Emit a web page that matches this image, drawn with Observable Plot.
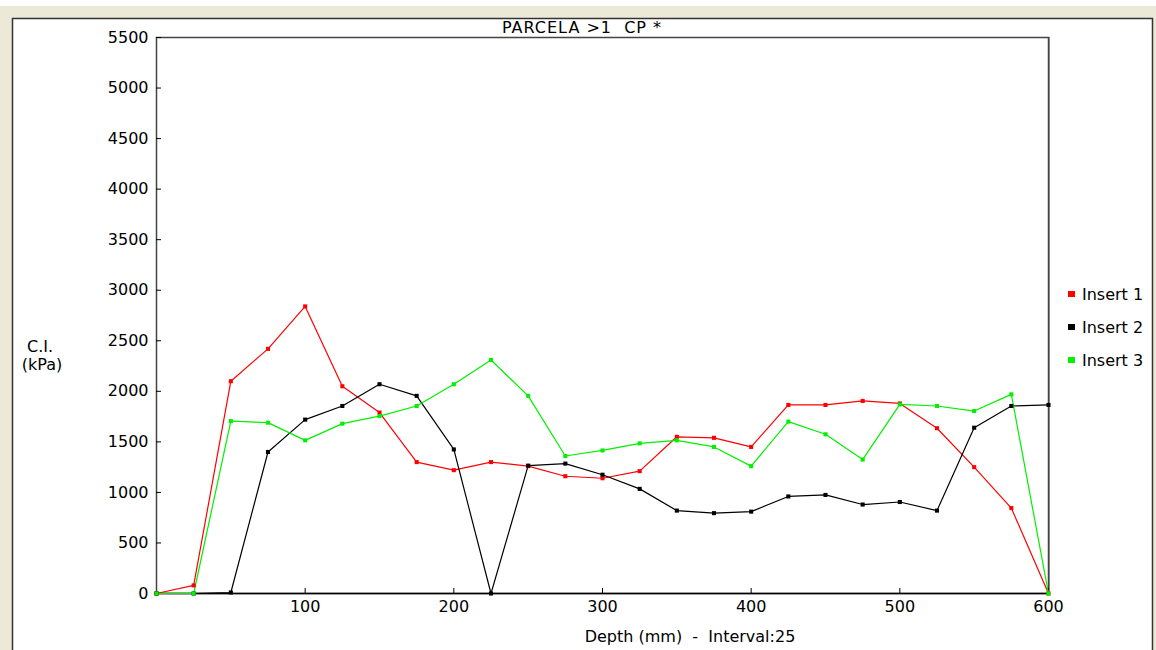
<!DOCTYPE html>
<html><head><meta charset="utf-8">
<script src="https://cdn.jsdelivr.net/npm/d3@7"></script>
<script src="https://cdn.jsdelivr.net/npm/@observablehq/plot@0.6"></script>
<style>body{margin:0;background:#fff;} svg{display:block;}</style>
</head><body><div id="chart"></div>
<script>
const depth = [0,25,50,75,100,125,150,175,200,225,250,275,300,325,350,375,400,425,450,475,500,525,550,575,600];
const insert1 = [0,80,2100,2420,2840,2050,1790,1300,1220,1300,1260,1160,1140,1210,1550,1540,1450,1865,1865,1905,1880,1635,1250,845,0];
const insert2 = [0,0,10,1400,1720,1855,2070,1955,1425,0,1265,1285,1175,1035,820,795,810,960,975,880,905,820,1640,1855,1865];
const insert3 = [0,0,1705,1690,1515,1680,1755,1855,2070,2310,1955,1360,1415,1485,1515,1450,1260,1700,1575,1325,1870,1855,1805,1970,0];
const seriesNames = ["Insert 1","Insert 2","Insert 3"];
const seriesColors = ["#ff0000","#000000","#00f000"];
const yTicks = [0,500,1000,1500,2000,2500,3000,3500,4000,4500,5000,5500];
const xTicks = [100,200,300,400,500,600];
const title = "PARCELA >1  CP *";
const xLabel = "Depth (mm)  -  Interval:25";
const yLabel = ["C.I.", "(kPa)"];

const seriesValues = [insert1, insert2, insert3];
const data = [];
seriesNames.forEach((s, i) => depth.forEach((d, j) => data.push({series: s, depth: d, ci: seriesValues[i][j]})));

const font = "DejaVu Sans, Liberation Sans, Arial, sans-serif";
const chart = Plot.plot({
  width: 1156, height: 650,
  marginLeft: 156, marginRight: 108, marginTop: 37, marginBottom: 57,
  style: {fontFamily: font, fontSize: "16px", color: "#000", background: "transparent", overflow: "visible"},
  x: {domain: [0, 600]},
  y: {domain: [0, 5500]},
  color: {domain: seriesNames, range: seriesColors},
  marks: [
    Plot.frame({stroke: "#444", strokeWidth: 1.5}),
    Plot.axisY({ticks: yTicks, tickSize: -5, tickPadding: 13, label: null, tickFormat: d => String(d), stroke: "#000"}),
    Plot.axisX({ticks: xTicks, tickSize: -5, tickPadding: 12, label: null, tickFormat: d => String(d), stroke: "#000"}),
    Plot.ruleY([0], {stroke: "#000", strokeWidth: 1.5}),
    Plot.line(data, {x: "depth", y: "ci", z: "series", stroke: "series", strokeWidth: 1.2}),
    Plot.dot(data, {x: "depth", y: "ci", fill: "series", symbol: "square", r: 2.3})
  ]
});

const svg = d3.select(chart);
// window chrome
const bg = svg.insert("g", ":first-child");
bg.append("rect").attr("x", 0).attr("y", 0).attr("width", 1156).attr("height", 650).attr("fill", "#fff");
bg.append("rect").attr("x", 0).attr("y", 6).attr("width", 1156).attr("height", 12).attr("fill", "#ece9d8");
bg.append("rect").attr("x", 0).attr("y", 6).attr("width", 12).attr("height", 644).attr("fill", "#ece9d8");
bg.append("rect").attr("x", 1153).attr("y", 6).attr("width", 3).attr("height", 644).attr("fill", "#ece9d8");
bg.append("path").attr("d", "M12.5,650V18.5H1152.5V650").attr("fill", "none").attr("stroke", "#333").attr("stroke-width", 1.5);
bg.append("line").attr("x1", 1049.5).attr("x2", 1049.5).attr("y1", 37).attr("y2", 593).attr("stroke", "#999");

const t = svg.append("g").attr("font-family", font).attr("fill", "#000");
t.append("text").attr("x", 582).attr("y", 33).attr("text-anchor", "middle").attr("font-size", 16).attr("letter-spacing", "1px").text(title);
t.append("text").attr("x", 690).attr("y", 642).attr("text-anchor", "middle").attr("font-size", 16).text(xLabel);
t.append("text").attr("x", 40).attr("y", 352).attr("text-anchor", "middle").attr("font-size", 16).text(yLabel[0]);
t.append("text").attr("x", 42).attr("y", 370).attr("text-anchor", "middle").attr("font-size", 16).text(yLabel[1]);

const leg = svg.append("g").attr("font-family", font).attr("font-size", 16).attr("text-anchor", "start");
seriesNames.forEach((s, i) => {
  const y = 294 + i * 33;
  leg.append("rect").attr("x", 1068).attr("y", y - 3).attr("width", 7).attr("height", 6).attr("fill", seriesColors[i]);
  leg.append("text").attr("x", 1082).attr("y", y + 6).attr("text-anchor", "start").text(s);
});

document.getElementById("chart").appendChild(chart);
</script>
</body></html>
